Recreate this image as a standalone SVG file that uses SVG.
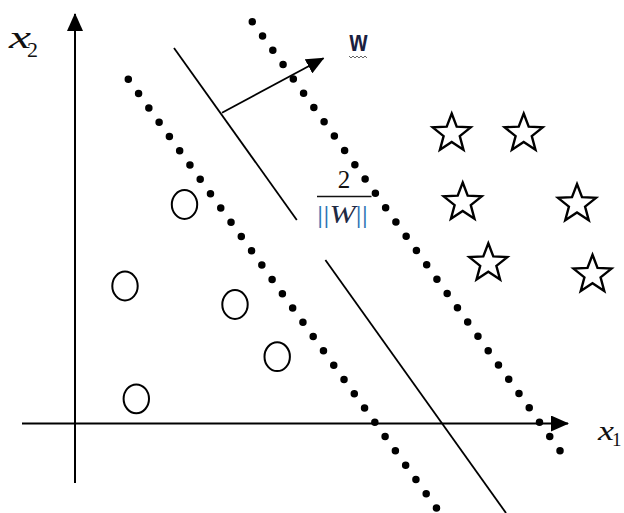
<svg xmlns="http://www.w3.org/2000/svg" width="624" height="513" viewBox="0 0 624 513">
<style>
.ax{stroke:#000;stroke-width:2;fill:none}
.ln{stroke:#000;stroke-width:1.8;fill:none}
.dots{stroke:#000;stroke-width:7.5;stroke-linecap:round;stroke-dasharray:0 17.6;fill:none}
.circ{fill:#fff;stroke:#000;stroke-width:2}
.star{fill:#fff;stroke:#000;stroke-width:2.4;stroke-linejoin:miter}
.math{font-family:"Liberation Serif","DejaVu Serif",serif;fill:#111}
</style>
<defs>
<marker id="ah" markerWidth="18" markerHeight="16" refX="17" refY="8" orient="auto" markerUnits="userSpaceOnUse">
<path d="M0,0 L18,8 L0,16 Z" fill="#000"/>
</marker>
<path id="st" d="M0,-20 L5,-6.88 L19.02,-6.18 L8.08,2.63 L11.76,16.18 L0,8.5 L-11.76,16.18 L-8.08,2.63 L-19.02,-6.18 L-5,-6.88 Z"/>
</defs>
<rect width="624" height="513" fill="#fff"/>
<g id="connectors">
<g id="y-axis"><line class="ax" x1="75" y1="483" x2="75" y2="14" marker-end="url(#ah)"/></g>
<g id="x-axis"><line class="ax" x1="22" y1="423.5" x2="568" y2="423.5" marker-end="url(#ah)"/></g>
<g id="hyperplane">
<line class="ln" x1="174" y1="48" x2="296.8" y2="220"/>
<line class="ln" x1="325.4" y1="260" x2="506" y2="513"/>
</g>
<g id="margin-left"><line class="dots" x1="128.3" y1="79.3" x2="439.6" y2="512.4"/></g>
<g id="margin-right"><line class="dots" x1="252.3" y1="21.7" x2="562.9" y2="454.8"/></g>
<g id="w-vector"><line class="ln" x1="222" y1="112.7" x2="323.5" y2="58.3" marker-end="url(#ah)"/></g>
</g>
<g id="circles">
<g id="c1"><ellipse class="circ" cx="184.5" cy="204.5" rx="12.7" ry="14.4"/></g>
<g id="c2"><ellipse class="circ" cx="125" cy="286" rx="12.7" ry="14.4"/></g>
<g id="c3"><ellipse class="circ" cx="235" cy="304.5" rx="12.7" ry="14.4"/></g>
<g id="c4"><ellipse class="circ" cx="277.2" cy="356.7" rx="12.7" ry="14.4"/></g>
<g id="c5"><ellipse class="circ" cx="136.3" cy="398.8" rx="12.7" ry="14.4"/></g>
</g>
<g id="stars">
<g id="s1"><use href="#st" class="star" x="451.7" y="133.5"/></g>
<g id="s2"><use href="#st" class="star" x="523.7" y="133.5"/></g>
<g id="s3"><use href="#st" class="star" x="462.7" y="202.5"/></g>
<g id="s4"><use href="#st" class="star" x="577" y="204"/></g>
<g id="s5"><use href="#st" class="star" x="488.3" y="263.3"/></g>
<g id="s6"><use href="#st" class="star" x="592.5" y="274.8"/></g>
</g>
<g id="label-x2">
<text class="math" x="9" y="48" font-size="32" font-style="italic" textLength="22" lengthAdjust="spacingAndGlyphs">x</text>
<text class="math" x="27" y="57" font-size="22">2</text>
</g>
<g id="label-x1">
<text class="math" x="598" y="440" font-size="28" font-style="italic" textLength="16" lengthAdjust="spacingAndGlyphs">x</text>
<text class="math" x="612" y="446" font-size="19">1</text>
</g>
<g id="label-w">
<text x="358.5" y="51" font-family="Liberation Sans, Arial, sans-serif" font-size="30" font-weight="bold" fill="#1a2040" text-anchor="middle" textLength="18" lengthAdjust="spacingAndGlyphs">w</text>
<polyline points="349,56 351,58 353,56 355,58 357,56 359,58 361,56 363,58 365,56 367,58" fill="none" stroke="#555" stroke-width="0.9"/>
</g>
<g id="label-margin">
<text class="math" x="344" y="188" font-size="25" text-anchor="middle">2</text>
<line x1="317" y1="196.5" x2="371.5" y2="196.5" stroke="#111" stroke-width="1.4"/>
<text class="math" x="342.5" y="223" font-size="25" text-anchor="middle" textLength="51" lengthAdjust="spacingAndGlyphs"><tspan fill="#2e74b5">||</tspan><tspan font-style="italic" fill="#1f2a44">W</tspan><tspan fill="#2e74b5">||</tspan></text>
</g>
</svg>
